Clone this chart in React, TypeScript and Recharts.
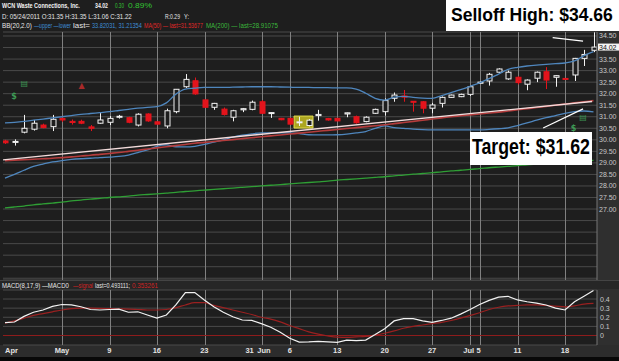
import React from 'react';
import {
  ComposedChart,
  Bar,
  Line,
  XAxis,
  YAxis,
  CartesianGrid,
  ReferenceLine,
  ReferenceArea,
  ReferenceDot,
} from 'recharts';

// trading days, 04/21/2011 .. 07/21/2011
const dates = [
  '04/21', '04/25', '04/26', '04/27', '04/28', '04/29',
  '05/02', '05/03', '05/04', '05/05', '05/06',
  '05/09', '05/10', '05/11', '05/12', '05/13',
  '05/16', '05/17', '05/18', '05/19', '05/20',
  '05/23', '05/24', '05/25', '05/26', '05/27',
  '05/31', '06/01', '06/02', '06/03',
  '06/06', '06/07', '06/08', '06/09', '06/10',
  '06/13', '06/14', '06/15', '06/16', '06/17',
  '06/20', '06/21', '06/22', '06/23', '06/24',
  '06/27', '06/28', '06/29', '06/30', '07/01',
  '07/05', '07/06', '07/07', '07/08',
  '07/11', '07/12', '07/13', '07/14', '07/15',
  '07/18', '07/19', '07/20', '07/21',
];

const opens = [
  29.95, 29.9, 30.33, 30.46, 30.64, 30.57, 30.92, 30.8, 30.8, 30.56,
  30.72, 30.76, 30.98, 30.96, 30.64, 31.12, 30.78, 30.6, 31.22, 32.3,
  32.56, 31.73, 31.41, 31.33, 30.98, 31.3, 31.32, 31.65, 31.15, 30.93,
  30.93, 30.76, 30.62, 31.05, 30.92, 30.93, 31.12, 31.0, 30.79, 31.15,
  31.22, 31.8, 31.9, 31.67, 31.65, 31.37, 31.58, 31.84, 31.87, 31.97,
  32.45, 32.55, 32.93, 32.64, 32.71, 32.41, 32.67, 32.95, 32.71, 32.66,
  32.81, 33.53, 33.88,
];
const highs = [
  30.0, 30.02, 31.08, 30.86, 30.7, 31.08, 30.98, 30.88, 30.87, 30.64,
  31.16, 31.03, 31.08, 31.0, 31.15, 31.15, 30.8, 31.35, 32.2, 32.85,
  32.7, 31.75, 31.6, 31.4, 31.3, 31.38, 31.7, 31.72, 31.2, 30.95,
  30.95, 31.0, 30.9, 31.3, 30.95, 30.95, 31.18, 31.05, 31.02, 31.35,
  31.8, 32.05, 32.16, 31.68, 31.68, 31.6, 31.88, 31.96, 32.0, 32.35,
  32.52, 32.9, 33.1, 33.0, 32.75, 32.62, 32.96, 33.15, 32.8, 32.68,
  33.55, 33.9, 34.66,
];
const lows = [
  29.82, 29.75, 30.28, 30.4, 30.5, 30.38, 30.78, 30.66, 30.68, 30.38,
  30.7, 30.64, 30.92, 30.72, 30.58, 30.78, 30.66, 30.5, 31.15, 32.25,
  31.95, 31.38, 31.3, 31.05, 30.8, 31.2, 31.28, 31.12, 30.95, 30.85,
  30.65, 30.6, 30.58, 30.83, 30.83, 30.8, 30.98, 30.7, 30.76, 31.12,
  31.05, 31.65, 31.65, 31.22, 31.15, 31.15, 31.4, 31.82, 31.85, 31.9,
  32.43, 32.35, 32.9, 32.6, 32.4, 32.15, 32.5, 32.2, 32.3, 32.6,
  32.55, 33.2, 33.8,
];
const closes = [
  29.87, 29.93, 30.5, 30.72, 30.53, 30.89, 30.86, 30.75, 30.72, 30.5,
  30.86, 30.93, 31.02, 30.76, 31.11, 30.82, 30.68, 31.26, 32.19, 32.62,
  31.99, 31.41, 31.58, 31.1, 31.26, 31.35, 31.63, 31.15, 31.18, 30.87,
  30.68, 30.78, 30.85, 31.1, 30.86, 30.82, 31.17, 30.74, 30.98, 31.32,
  31.7, 31.94, 31.85, 31.63, 31.37, 31.51, 31.84, 31.94, 31.97, 32.3,
  32.5, 32.84, 33.07, 32.93, 32.48, 32.59, 32.93, 32.59, 32.78, 32.62,
  33.53, 33.7, 34.02,
];

const bbUpper = [
  30.73, 30.76, 30.8, 30.85, 30.9, 30.95, 31.0, 31.05, 31.1, 31.14,
  31.18, 31.22, 31.27, 31.32, 31.37, 31.41, 31.44, 31.6, 31.98, 32.2,
  32.24, 32.27, 32.27, 32.27, 32.28, 32.29, 32.3, 32.3, 32.3, 32.29,
  32.28, 32.27, 32.27, 32.26, 32.26, 32.25, 32.25, 32.2, 32.02, 31.8,
  31.72, 31.85, 31.88, 31.84, 31.81, 31.8, 31.92, 32.05, 32.18, 32.32,
  32.47, 32.65, 32.85, 33.05, 33.14, 33.2, 33.24, 33.27, 33.3, 33.33,
  33.42, 33.65, 33.82,
];
const bbLower = [
  28.34, 28.5, 28.68, 28.85, 28.95, 29.04, 29.1, 29.15, 29.18, 29.2,
  29.23, 29.25, 29.28, 29.34, 29.45, 29.56, 29.72, 29.78, 29.7, 29.69,
  29.72, 29.8, 29.9, 30.0, 30.12, 30.2, 30.26, 30.3, 30.3, 30.3,
  30.3, 30.27, 30.22, 30.21, 30.21, 30.22, 30.25, 30.3, 30.36, 30.5,
  30.6, 30.53, 30.5, 30.46, 30.44, 30.43, 30.43, 30.43, 30.43, 30.43,
  30.43, 30.45, 30.48, 30.52, 30.62, 30.73, 30.85, 30.96, 31.05, 31.15,
  31.22, 31.25, 31.21,
];
const ma50 = [
  29.1, 29.12, 29.14, 29.16, 29.18, 29.2, 29.23, 29.26, 29.3, 29.33,
  29.37, 29.41, 29.45, 29.5, 29.55, 29.6, 29.65, 29.7, 29.75, 29.8,
  29.85, 29.89, 29.93, 29.97, 30.01, 30.05, 30.09, 30.13, 30.17, 30.21,
  30.25, 30.29, 30.33, 30.37, 30.41, 30.45, 30.49, 30.53, 30.57, 30.61,
  30.65, 30.7, 30.75, 30.8, 30.85, 30.9, 30.95, 31.0, 31.04, 31.08,
  31.12, 31.16, 31.2, 31.25, 31.3, 31.35, 31.4, 31.45, 31.5, 31.55,
  31.6, 31.65, 31.7,
];
const ma200 = [
  27.05, 27.09, 27.13, 27.18, 27.22, 27.26, 27.3, 27.35, 27.39, 27.43,
  27.46, 27.5, 27.53, 27.56, 27.6, 27.63, 27.66, 27.69, 27.72, 27.76,
  27.79, 27.82, 27.85, 27.88, 27.91, 27.94, 27.97, 28.0, 28.03, 28.06,
  28.09, 28.12, 28.15, 28.18, 28.21, 28.25, 28.28, 28.31, 28.34, 28.37,
  28.4, 28.44, 28.47, 28.51, 28.54, 28.58, 28.61, 28.65, 28.68, 28.72,
  28.75, 28.79, 28.82, 28.85, 28.88, 28.92, 28.95, 28.98, 29.01, 29.03,
  29.06, 29.09, 29.11,
];

const macd = [
  0.142, 0.148, 0.21, 0.255, 0.28, 0.32, 0.34, 0.335, 0.315, 0.285,
  0.28, 0.285, 0.29, 0.255, 0.26, 0.225, 0.19, 0.225, 0.335, 0.47,
  0.47, 0.39, 0.315, 0.255, 0.205, 0.17, 0.165, 0.13, 0.09, 0.035,
  -0.03, -0.073, -0.07, -0.064, -0.07, -0.076, -0.05, -0.055, -0.05, 0.01,
  0.075, 0.16, 0.185, 0.185, 0.16, 0.145, 0.165, 0.19, 0.235, 0.285,
  0.34, 0.385, 0.42, 0.43, 0.39, 0.37, 0.355, 0.335, 0.3, 0.28,
  0.37, 0.43, 0.493,
];
const macdSignal = [
  0.135, 0.16, 0.19, 0.22, 0.24, 0.26, 0.28, 0.295, 0.3, 0.3,
  0.298, 0.295, 0.292, 0.29, 0.285, 0.28, 0.28, 0.285, 0.305, 0.335,
  0.36, 0.36, 0.33, 0.305, 0.28, 0.255, 0.23, 0.2, 0.18, 0.15,
  0.11, 0.075, 0.04, 0.015, -0.005, -0.018, -0.02, -0.015, -0.01, 0.005,
  0.025, 0.05, 0.08, 0.1, 0.115, 0.13, 0.145, 0.165, 0.19, 0.22,
  0.25, 0.285, 0.31, 0.325, 0.33, 0.335, 0.335, 0.33, 0.322, 0.315,
  0.325, 0.345, 0.353,
];

const priceTicks = [
  24, 24.5, 25, 25.5, 26, 26.5, 27, 27.5, 28, 28.5, 29, 29.5, 30, 30.5,
  31, 31.5, 32, 32.5, 33, 33.5, 34, 34.5,
];
const priceLabelMin = 27;
const macdTicks = [0, 0.1, 0.2, 0.3, 0.4];

const dateTicks = [0, 6, 11, 16, 21, 26, 27, 30, 35, 40, 45, 49, 50, 54, 59];
const dateTickLabels = ['Apr', 'May', '9', '16', '23', '31', 'Jun', '6', '13', '20', '27', 'Jul', '5', '11', '18'];
const gridDays = [6, 11, 16, 21, 27, 30, 35, 40, 45, 49, 50, 54, 59];

// drawn annotations, in (bar index, price)
const trendLine = [{ i: -0.2, p: 29.13 }, { i: 61.85, p: 31.66 }];
const highArrow = [{ i: 57.7, p: 34.43 }, { i: 60.9, p: 34.28 }];
const targetArrow = [{ i: 56.7, p: 30.51 }, { i: 60.9, p: 31.34 }];
const highlightBox = { i1: 30.45, i2: 32.45, p1: 30.51, p2: 31.03 };
const events = [
  { i: 0.95, p: 31.91, glyph: '$', color: '#3d9a55' },
  { i: 2.03, p: 32.48, glyph: '▤', color: '#3d9a55' },
  { i: 8.08, p: 32.38, glyph: '▲', color: '#a82a2a' },
  { i: 59.9, p: 30.53, glyph: '$', color: '#3d9a55' },
  { i: 60.9, p: 31.01, glyph: '▤', color: '#3d9a55' },
];

const FONT = '"Liberation Sans", Arial, sans-serif';
const BG = '#1e1e1e';
const GRID_V = '#808080';
const X_DOMAIN = [-0.21, 62.37];
const PRICE_DOMAIN = [23.924, 34.673];
const MACD_DOMAIN = [-0.104, 0.499];
const MACD_REF = [0, 0.4];

const lastClose = closes[closes.length - 1];

const rows = dates.map((d, i) => ({
  i,
  date: d,
  open: opens[i],
  high: highs[i],
  low: lows[i],
  close: closes[i],
  range: [lows[i], highs[i]],
  bbUpper: bbUpper[i],
  bbLower: bbLower[i],
  ma50: ma50[i],
  ma200: ma200[i],
  macd: macd[i],
  signal: macdSignal[i],
  macdRef: MACD_REF,
}));

let measureCtx: CanvasRenderingContext2D | null = null;
function textWidth(text: string, size: number, bold: boolean) {
  if (!measureCtx) measureCtx = document.createElement('canvas').getContext('2d');
  if (!measureCtx) return text.length * size * 0.55;
  measureCtx.font = `${bold ? 'bold ' : ''}${size}px "Liberation Sans", Arial, sans-serif`;
  return measureCtx.measureText(text).width;
}

function isGridDay(payload: any, index: any) {
  const k = payload && typeof payload.i === 'number' ? payload.i : index;
  return gridDays.indexOf(k) >= 0;
}

function Candle(props: any) {
  const { x, y, width, height, payload, index } = props;
  if (x == null || !payload) return <g />;
  const top = Math.min(y, y + height);
  const bot = Math.max(y, y + height);
  const { open, close, high, low } = payload;
  const span = high - low;
  // linear price -> pixel map taken from this bar's own high/low
  const toY = (v: number) => (span > 0 ? top + ((high - v) / span) * (bot - top) : top);
  const cx = Math.round(x + width / 2) + 0.5;
  const up = close >= open;
  const color = up ? '#f2f2f2' : '#e3141c';
  const bTop = toY(Math.max(open, close));
  let bH = toY(Math.min(open, close)) - bTop;
  if (bH < 1) bH = 1;
  const g0 = toY(PRICE_DOMAIN[1]);
  const g1 = toY(PRICE_DOMAIN[0]);
  return (
    <g>
      {isGridDay(payload, index) && span > 0 && (
        <rect x={cx - 0.5} y={g0} width={1} height={g1 - g0} fill={GRID_V} />
      )}
      <line x1={cx} x2={cx} y1={top} y2={bot} stroke={color} strokeWidth={1} />
      <rect
        x={cx - 2.5}
        y={bTop}
        width={5}
        height={bH}
        fill={up ? BG : color}
        stroke={color}
        strokeWidth={1}
      />
    </g>
  );
}

function MacdGrid(props: any) {
  const { x, y, width, height, payload, index } = props;
  if (x == null || !height || !isGridDay(payload, index)) return <g />;
  const top = Math.min(y, y + height);
  const bot = Math.max(y, y + height);
  const toY = (v: number) => top + ((MACD_REF[1] - v) / (MACD_REF[1] - MACD_REF[0])) * (bot - top);
  const cx = Math.round(x + width / 2) + 0.5;
  const g0 = toY(MACD_DOMAIN[1]);
  const g1 = toY(MACD_DOMAIN[0]);
  return <rect x={cx - 0.5} y={g0} width={1} height={g1 - g0} fill={GRID_V} />;
}

function PriceTick(props: any) {
  const { x, y, payload } = props;
  const v = payload.value;
  if (v < priceLabelMin || Math.abs(v - lastClose) < 0.2) return <g />;
  return (
    <text x={x + 2} y={y} dy={2.5} fontSize={7} fill="#c8c8c8" fontFamily={FONT}>
      {v.toFixed(2)}
    </text>
  );
}

function MacdTick(props: any) {
  const { x, y, payload } = props;
  const v = payload.value;
  return (
    <text x={x + 3} y={y} dy={2.5} fontSize={7} fill="#c8c8c8" fontFamily={FONT}>
      {v === 0 ? '0' : v.toFixed(1)}
    </text>
  );
}

function DateTick(props: any) {
  const { x, y, payload } = props;
  const k = dateTicks.indexOf(payload.value);
  const label = dateTickLabels[k];
  let anchor: 'start' | 'middle' | 'end' = 'middle';
  let dx = 0;
  if (k === 0) anchor = 'start';
  if (label === '31') { anchor = 'end'; dx = 2; }
  if (label === 'Jun') { anchor = 'start'; dx = -4; }
  if (label === 'Jul') { anchor = 'end'; dx = 4; }
  if (label === '5') { anchor = 'start'; dx = -3; }
  return (
    <text
      x={x + dx}
      y={y + 7.5}
      textAnchor={anchor}
      fontSize={7.5}
      fontWeight="bold"
      fill="#e2e2e2"
      fontFamily={FONT}
    >
      {label}
    </text>
  );
}

function LastTag(props: any) {
  const vb = props.viewBox;
  if (!vb) return <g />;
  const x = vb.x + vb.width;
  return (
    <g>
      <rect x={x + 1} y={vb.y - 3.5} width={22} height={7} fill="#f4f4f4" />
      <text x={x + 2} y={vb.y + 2.5} fontSize={7} fill="#111" fontFamily={FONT}>
        {lastClose.toFixed(2)}
      </text>
    </g>
  );
}

function EventGlyph(props: any) {
  const { cx, cy, glyph, color } = props;
  return (
    <text x={cx} y={cy + 3} textAnchor="middle" fontSize={8} fontWeight="bold" fill={color} fontFamily="DejaVu Sans">
      {glyph}
    </text>
  );
}

// text squeezed to a measured width (the source uses a narrow screen font)
function T({ x, y, w, c, b, s, children }: any) {
  const size = s || 7;
  const natural = textWidth(String(children), size, !!b);
  const sx = natural > 0 ? w / natural : 1;
  return (
    <text
      transform={`translate(${x},${y}) scale(${sx},1)`}
      x={0}
      y={0}
      fontSize={size}
      fontWeight={b ? 'bold' : 'normal'}
      fill={c}
      fontFamily={FONT}
    >
      {children}
    </text>
  );
}

export default function App() {
  return (
    <div
      style={{
        position: 'absolute',
        left: 0,
        top: 0,
        width: 619,
        height: 361,
        background: BG,
        overflow: 'hidden',
        fontFamily: FONT,
      }}
    >
      {/* axis columns and strips */}
      <div style={{ position: 'absolute', left: 597, top: 30, width: 22, height: 251, background: '#2f2f2f' }} />
      <div style={{ position: 'absolute', left: 0, top: 280, width: 619, height: 9, background: '#262626', borderTop: '1px solid #444' }} />
      <div style={{ position: 'absolute', left: 597, top: 289, width: 22, height: 56, background: '#2f2f2f' }} />
      <div style={{ position: 'absolute', left: 0, top: 345, width: 619, height: 12, background: '#2c2c2c' }} />
      <div style={{ position: 'absolute', left: 0, top: 357, width: 619, height: 4, background: '#080808' }} />

      <div style={{ position: 'absolute', left: 0, top: 30 }}>
        <ComposedChart width={619} height={250} data={rows} margin={{ top: 2, right: 0, bottom: 0, left: 3 }}>
          <CartesianGrid vertical={false} stroke="#4a4a4a" strokeWidth={1} />
          <XAxis dataKey="i" type="number" domain={X_DOMAIN} hide height={0} allowDataOverflow />
          <YAxis
            orientation="right"
            width={22}
            domain={PRICE_DOMAIN}
            ticks={priceTicks}
            interval={0}
            allowDataOverflow
            tick={<PriceTick />}
            tickLine={false}
            tickSize={0}
            tickMargin={0}
            axisLine={{ stroke: '#777' }}
          />
          <ReferenceArea
            x1={highlightBox.i1}
            x2={highlightBox.i2}
            y1={highlightBox.p1}
            y2={highlightBox.p2}
            fill="#c4bd22"
            fillOpacity={0.85}
            stroke="#e2dc4a"
          />
          <Line dataKey="ma200" stroke="#2f9f35" strokeWidth={1.3} dot={false} isAnimationActive={false} type="monotone" />
          <Line dataKey="bbUpper" stroke="#4f86bd" strokeWidth={1.3} dot={false} isAnimationActive={false} type="monotone" />
          <Line dataKey="bbLower" stroke="#4f86bd" strokeWidth={1.3} dot={false} isAnimationActive={false} type="monotone" />
          <Line dataKey="ma50" stroke="#b43c3c" strokeWidth={1.6} dot={false} isAnimationActive={false} type="monotone" />
          <ReferenceLine
            segment={[{ x: trendLine[0].i, y: trendLine[0].p }, { x: trendLine[1].i, y: trendLine[1].p }]}
            stroke="#f3dcdc"
            strokeWidth={1.4}
          />
          <Bar dataKey="range" barSize={6} shape={<Candle />} isAnimationActive={false} />
          <ReferenceLine
            segment={[{ x: highArrow[0].i, y: highArrow[0].p }, { x: highArrow[1].i, y: highArrow[1].p }]}
            stroke="#ffffff"
            strokeWidth={1.2}
          />
          <ReferenceLine
            segment={[{ x: targetArrow[0].i, y: targetArrow[0].p }, { x: targetArrow[1].i, y: targetArrow[1].p }]}
            stroke="#ffffff"
            strokeWidth={1.2}
          />
          {events.map((e, k) => (
            <ReferenceDot
              key={k}
              x={e.i}
              y={e.p}
              r={3}
              shape={(p: any) => <EventGlyph {...p} glyph={e.glyph} color={e.color} />}
            />
          ))}
          <ReferenceLine y={lastClose} stroke="none" label={(p: any) => <LastTag {...p} />} />
        </ComposedChart>
      </div>

      <div style={{ position: 'absolute', left: 0, top: 289 }}>
        <ComposedChart width={619} height={68} data={rows} margin={{ top: 1, right: 0, bottom: 0, left: 3 }}>
          <CartesianGrid vertical={false} stroke="#4a4a4a" strokeWidth={1} />
          <XAxis
            dataKey="i"
            type="number"
            domain={X_DOMAIN}
            ticks={dateTicks}
            allowDataOverflow
            height={12}
            tick={<DateTick />}
            tickLine={false}
            tickSize={0}
            tickMargin={0}
            axisLine={false}
            interval={0}
          />
          <YAxis
            orientation="right"
            width={22}
            domain={MACD_DOMAIN}
            ticks={macdTicks}
            interval={0}
            allowDataOverflow
            tick={<MacdTick />}
            tickLine={false}
            tickSize={0}
            tickMargin={0}
            axisLine={{ stroke: '#777' }}
          />
          <Bar dataKey="macdRef" barSize={2} shape={<MacdGrid />} isAnimationActive={false} />
          <ReferenceLine y={0} stroke="#8e1c1c" strokeWidth={1.2} />
          <Line dataKey="signal" stroke="#9a2020" strokeWidth={1.2} dot={false} isAnimationActive={false} type="monotone" />
          <Line dataKey="macd" stroke="#f2f2f2" strokeWidth={1.2} dot={false} isAnimationActive={false} type="linear" />
        </ComposedChart>
      </div>

      {/* header, legend texts and callouts */}
      <svg width={619} height={361} style={{ position: 'absolute', left: 0, top: 0, pointerEvents: 'none' }}>
        <T x={2} y={7.5} w={78} c="#f2f2f2" b>WCN Waste Connections, Inc.</T>
        <T x={95} y={7.5} w={13} c="#f2f2f2" b>34.02</T>
        <T x={115} y={7.5} w={9} c="#33c433">0.30</T>
        <T x={128} y={7.5} w={24} c="#33c433">0.89%</T>

        <T x={2} y={18.5} w={130} c="#e6e6e6">D: 05/24/2011 O:31.35 H:31.35 L:31.06 C:31.22</T>
        <T x={165} y={18.5} w={15} c="#e6e6e6">R:0.29</T>
        <T x={184} y={18.5} w={5} c="#e6e6e6">Y:</T>

        <T x={2} y={27.8} w={30} c="#e6e6e6">BB(20,2.0)</T>
        <T x={34} y={27.8} w={37} c="#3f8fd8">—upper —lower</T>
        <T x={73} y={27.8} w={17} c="#e6e6e6">last=</T>
        <T x={92} y={27.8} w={50} c="#3f8fd8">33.82031, 31.21354</T>
        <T x={144} y={27.8} w={59} c="#e02828">MA(50) — last=31.53677</T>
        <T x={206} y={27.8} w={72} c="#3cb83c">MA(200) — last=28.91075</T>

        <T x={2} y={287.5} w={67} c="#e6e6e6">MACD(8,17,9) —MACD0</T>
        <T x={73} y={287.5} w={20} c="#d02424">—signal</T>
        <T x={95} y={287.5} w={35} c="#e6e6e6">last=0.493111;</T>
        <T x={132} y={287.5} w={26} c="#d02424">0.353261</T>

        <rect x={446} y={0} width={173} height={31} fill="#ffffff" />
        <T x={451} y={21} w={162} c="#000" b s={18}>Selloff High: $34.66</T>

        <rect x={470} y={132} width={122} height={33} fill="#ffffff" />
        <T x={472} y={153.5} w={118} c="#000" b s={22}>Target: $31.62</T>
      </svg>
    </div>
  );
}
